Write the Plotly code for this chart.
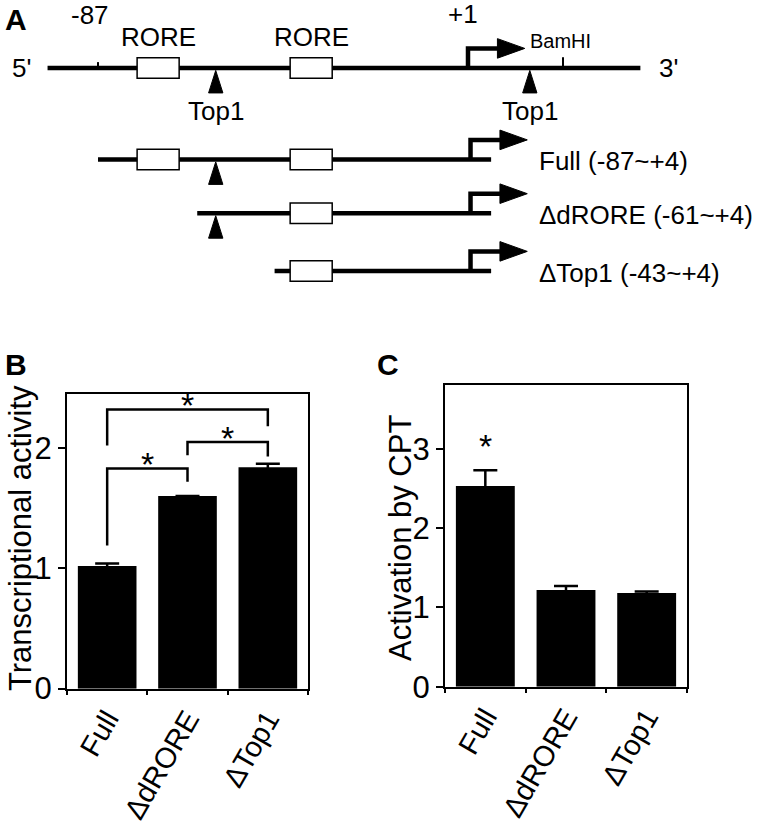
import plotly.graph_objects as go

# %% data

# panel A: promoter map, positions in bp relative to the start site (+1)
gene_span = [-99, 42]
tick_pos = [-87, 23.6]
tick_labels = ['-87', 'BamHI']
rore_start = [-77.7, -41.3]
rore_end = [-67.7, -31.3]
top1_sites = [-59, 15.7]
tss = 1
construct_names = ['Full (-87~+4)', 'ΔdRORE (-61~+4)', 'ΔTop1 (-43~+4)']
construct_start = [-87, -63.4, -45]
construct_end = [6.5, 6.5, 6.5]
construct_rore = [[0, 1], [1], [1]]      # which RORE boxes each construct keeps
construct_top1 = [[0], [0], []]          # which Top1 sites each construct keeps

# panels B and C
groups = ['Full', 'ΔdRORE', 'ΔTop1']
transcription = [1.02, 1.60, 1.84]
transcription_err = [0.02, 0.0, 0.03]
cpt_activation = [2.53, 1.22, 1.18]
cpt_err = [0.20, 0.05, 0.02]

# significance brackets in B: left group, right group, left foot, top, right foot, star height
brackets = [
    (0, 1, 1.19, 1.83, 1.72, 1.93),
    (1, 2, 1.94, 2.05, 1.93, 2.15),
    (0, 2, 2.02, 2.32, 2.18, 2.42),
]
cpt_star = [(0, 3.14)]

# %% figure
W, H = 760, 825
FONT = 'Liberation Sans, Arial, sans-serif'
fig = go.Figure()

# schematic axes use bp on x and pixels-from-top on y
main_y = 69.5
row_y = [163, 218, 277]
AX = dict(xref='x3', yref='y3')


def line(x0, x1, y0, y1, w=4.5):
    fig.add_shape(type='line', x0=x0, x1=x1, y0=y0, y1=y1,
                  line=dict(color='black', width=w), **AX)


def rore_box(i, y):
    fig.add_shape(type='rect', x0=rore_start[i], x1=rore_end[i], y0=y - 10.5, y1=y + 10.5,
                  fillcolor='white', line=dict(color='black', width=1.5), **AX)


def top1_mark(x, y):
    fig.add_shape(type='path', path=f'M {x},{y + 2.5} L {x + 1.7},{y + 25.5} L {x - 1.7},{y + 25.5} Z',
                  fillcolor='black', line=dict(color='black', width=1), **AX)


def start_arrow(x, y):
    fig.add_shape(type='path', path=f'M {x},{y} L {x},{y - 20} L {x + 7.2},{y - 20}',
                  line=dict(color='black', width=4.5), **AX)
    fig.add_shape(type='path', path=f'M {x + 7},{y - 30} L {x + 13.5},{y - 20} L {x + 7},{y - 10} Z',
                  fillcolor='black', line=dict(color='black', width=1), **AX)


def label(x, y, text, size=26, xanchor='center'):
    fig.add_annotation(x=x, y=y, text=text, showarrow=False, xanchor=xanchor, yanchor='middle',
                       font=dict(family=FONT, size=size, color='black'), **AX)


# full-length gene
line(gene_span[0], gene_span[1], main_y, main_y)
line(tick_pos[0], tick_pos[0], main_y - 6, main_y, w=2)
line(tick_pos[1], tick_pos[1], main_y - 11, main_y, w=2)
for i in range(len(rore_start)):
    rore_box(i, main_y)
    label((rore_start[i] + rore_end[i]) / 2, 38, 'RORE')
for s in top1_sites:
    top1_mark(s, main_y)
    label(s, 113, 'Top1')
start_arrow(tss, main_y)
label(tick_pos[0] - 2, 15, tick_labels[0])
label(tss - 1.2, 14, '+1')
label(tick_pos[1] - 0.6, 42, tick_labels[1], size=20)
label(gene_span[0] - 3.5, main_y, "5'", xanchor='right')
label(gene_span[1] + 3.9, main_y, "3'", xanchor='left')

# deletion constructs
for k, name in enumerate(construct_names):
    y = row_y[k]
    line(construct_start[k], construct_end[k], y, y)
    for i in construct_rore[k]:
        rore_box(i, y)
    for i in construct_top1[k]:
        top1_mark(top1_sites[i], y)
    start_arrow(tss + 0.6, y)
    label(construct_end[k] + 11, y + 2, name, xanchor='left')

# panel B bars
fig.add_trace(go.Bar(x=groups, y=transcription, width=0.73, marker=dict(color='black', line_width=0),
                     error_y=dict(type='data', array=transcription_err, color='black', thickness=2.5, width=12),
                     xaxis='x', yaxis='y', showlegend=False))
for a, b, yl, yt, yr, ys in brackets:
    fig.add_trace(go.Scatter(x=[groups[a], groups[a], groups[b], groups[b]], y=[yl, yt, yt, yr],
                             mode='lines', line=dict(color='black', width=2.5),
                             xaxis='x', yaxis='y', showlegend=False))
    fig.add_annotation(x=(a + b) / 2, y=ys, text='*', showarrow=False, yshift=-8,
                       xanchor='center', yanchor='middle',
                       font=dict(family=FONT, size=34, color='black'), xref='x', yref='y')

# panel C bars
fig.add_trace(go.Bar(x=groups, y=cpt_activation, width=0.73, marker=dict(color='black', line_width=0),
                     error_y=dict(type='data', array=cpt_err, color='black', thickness=2.5, width=12),
                     xaxis='x2', yaxis='y2', showlegend=False))
for g, ys in cpt_star:
    fig.add_annotation(x=g, y=ys, text='*', showarrow=False, yshift=-8,
                       xanchor='center', yanchor='middle',
                       font=dict(family=FONT, size=34, color='black'), xref='x2', yref='y2')

# axes
frame = dict(showline=True, mirror=True, linecolor='black', linewidth=2, showgrid=False, zeroline=False,
             tickfont=dict(family=FONT, size=31, color='black'), ticks='outside', tickcolor='black')
xcat = dict(frame, type='category', tickson='boundaries', ticklen=4, tickwidth=2, tickangle=-60,
            range=[-0.5, 2.5], tickfont=dict(family=FONT, size=29, color='black'))
fig.update_layout(
    xaxis=dict(xcat, domain=[67 / W, 308 / W], anchor='y'),
    yaxis=dict(frame, domain=[1 - 704 / H, 1 - 403 / H], range=[0, 2.447], tickvals=[0, 1, 2],
               ticklen=7, tickwidth=2, anchor='x'),
    xaxis2=dict(xcat, domain=[445 / W, 687 / W], anchor='y2'),
    yaxis2=dict(frame, domain=[1 - 702 / H, 1 - 394 / H], range=[0, 3.8], tickvals=[0, 1, 2, 3],
                ticklen=7, tickwidth=2, anchor='x2'),
    xaxis3=dict(domain=[0, 1], range=[-110.31, 70.45], visible=False, anchor='y3'),
    yaxis3=dict(domain=[1 - 310 / H, 1], range=[310, 0], visible=False, anchor='x3'),
)

# axis titles and panel letters
for x, text in [(20, 'Transcriptional activity'), (400, 'Activation by CPT')]:
    fig.add_annotation(x=x / W, y=1 - 550 / H, xref='paper', yref='paper', text=text, textangle=-90,
                       xanchor='center', yanchor='middle', showarrow=False,
                       font=dict(family=FONT, size=31, color='black'))
for x, y, text in [(16, 20, 'A'), (16, 373, 'B'), (388, 373, 'C')]:
    fig.add_annotation(x=x / W, y=1 - y / H, xref='paper', yref='paper', text=f'<b>{text}</b>',
                       xanchor='center', yanchor='middle', showarrow=False,
                       font=dict(family=FONT, size=30, color='black'))

fig.update_layout(width=W, height=H, margin=dict(l=0, r=0, t=0, b=0),
                  plot_bgcolor='white', paper_bgcolor='white', bargap=0.27)
fig.write_html('out.html', config={'displayModeBar': False},
               post_script="document.body.style.margin='0';")
